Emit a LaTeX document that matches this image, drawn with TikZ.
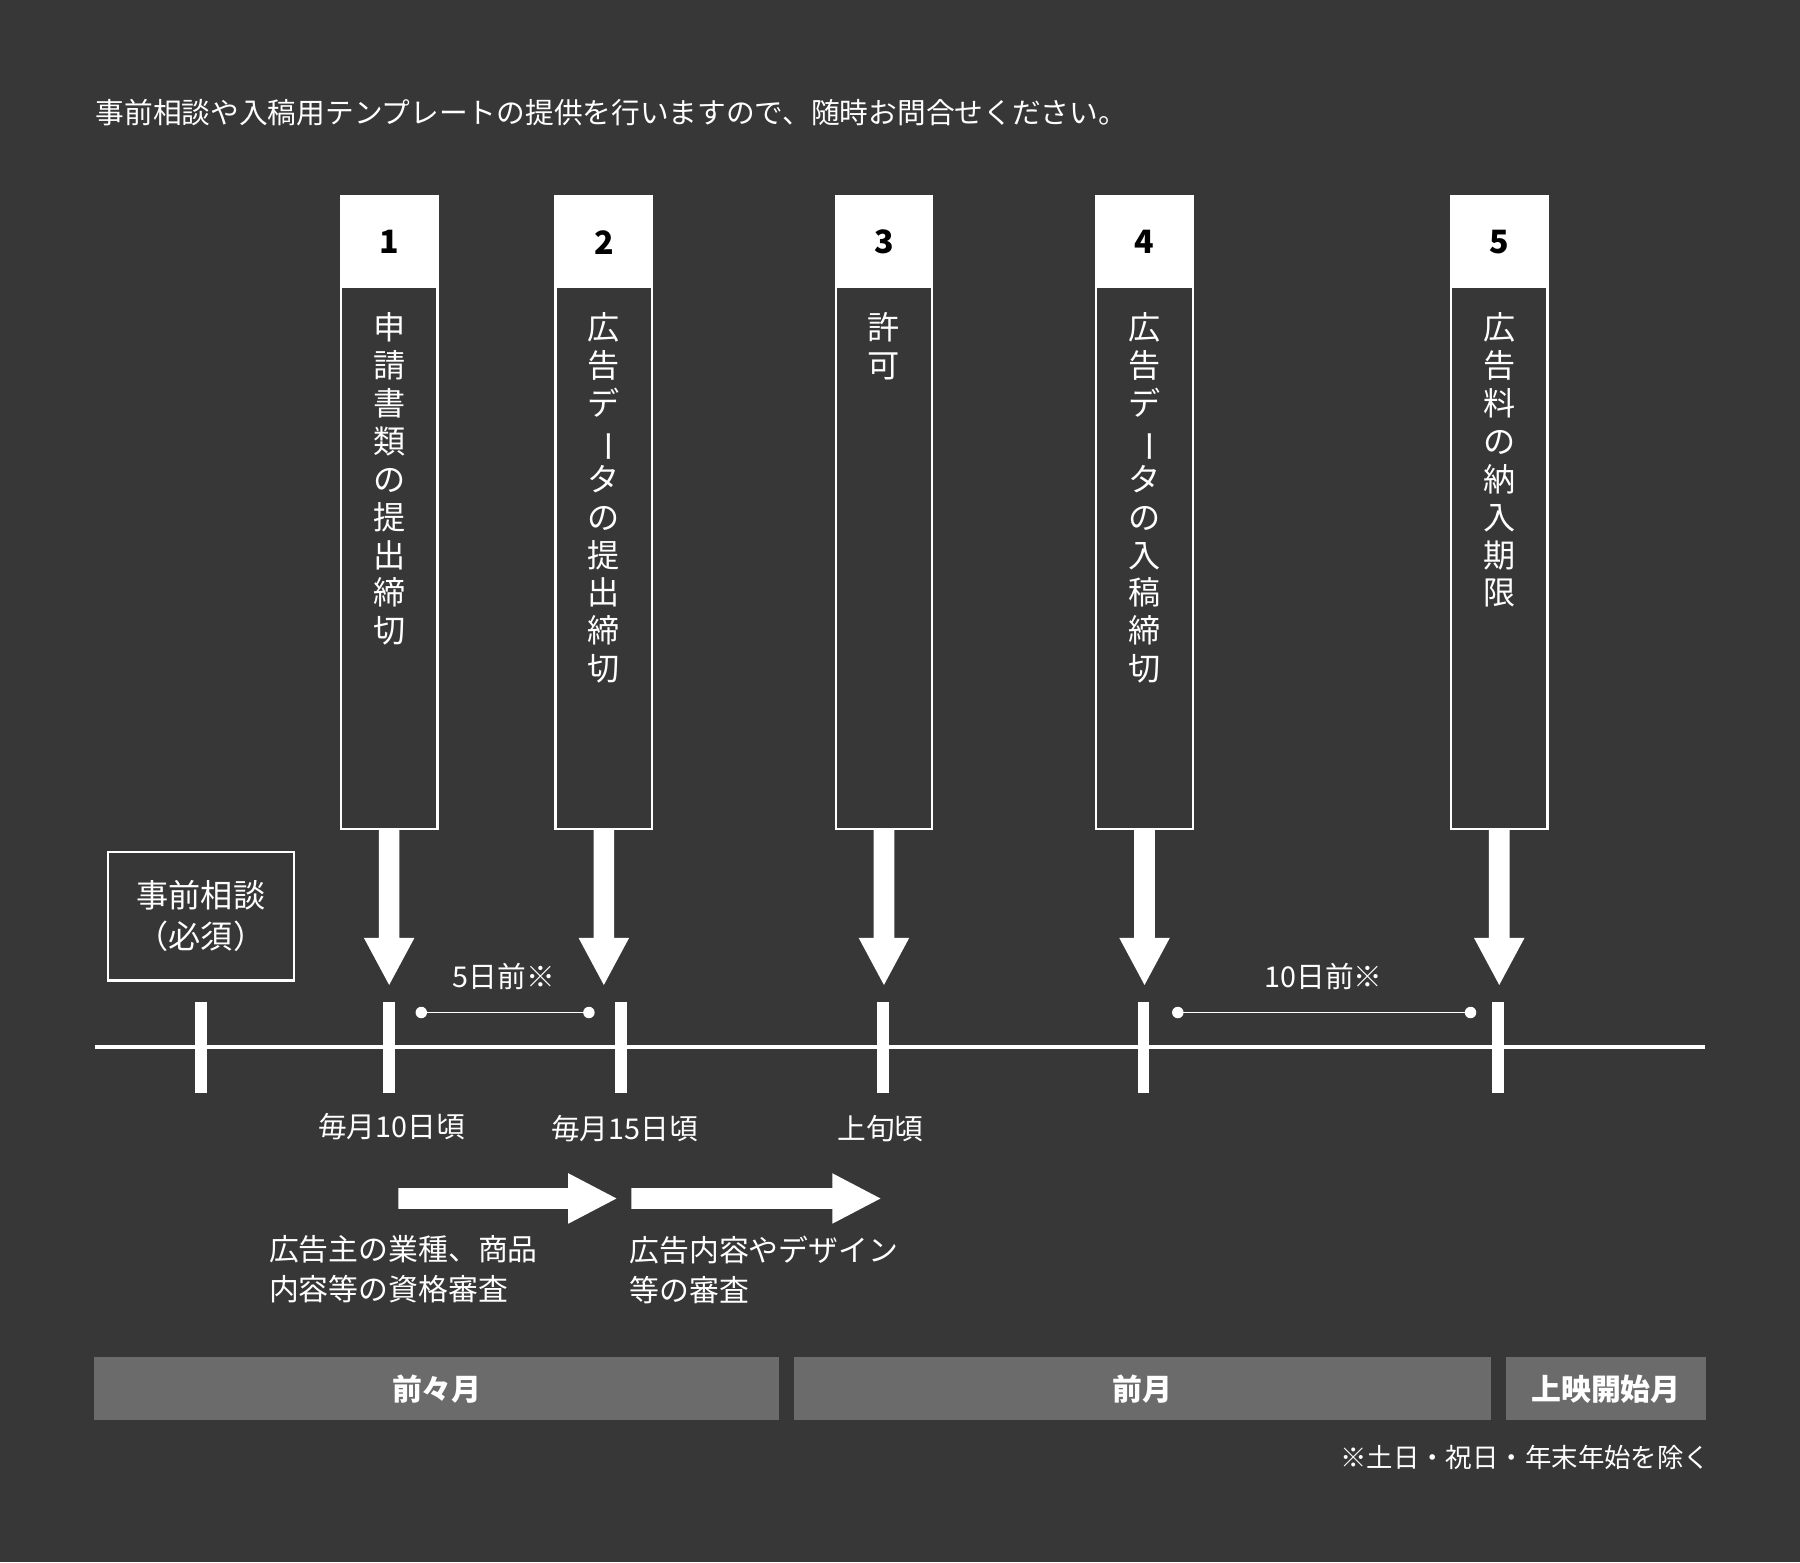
\documentclass[tikz,border=0pt]{standalone}
\usepackage{fontspec}
\usepackage{graphicx}
\newfontfamily\jp{Noto Sans CJK JP}
\newfontfamily\jpb{Noto Sans CJK JP Bold}
\definecolor{bg}{HTML}{373737}
\definecolor{bar}{HTML}{6B6B6B}
\newcommand{\vbar}{\rotatebox[origin=c]{-90}{ー}}
\begin{document}
\begin{tikzpicture}[x=0.5pt,y=-0.5pt,
  txt/.style={text=white,font=\jp\fontsize{12.5}{15}\selectfont,inner sep=0},
  vtxt/.style={text=white,font=\jp\fontsize{14}{16.5}\selectfont,inner sep=0,align=center,anchor=north},
  col/.style={draw=white,line width=1pt,fill=bg},
  hdr/.style={draw=white,fill=white,line width=1pt},
  num/.style={text=black,font=\jp\bfseries\fontsize{14}{16}\selectfont},
  tick/.style={white,line width=5pt},
  barbox/.style={fill=bar,draw=none,text=white,font=\jp\bfseries\fontsize{13}{15}\selectfont}]
\fill[bg] (0,0) rectangle (1568,1361);
\useasboundingbox (0,0) rectangle (1568,1361);
\node[txt,anchor=west] (top) at (83,98) {事前相談や入稿用テンプレートの提供を行いますので、随時お問合せください。};
% columns
\foreach \i/\x/\t in {1/339/{申\\請\\書\\類\\の\\提\\出\\締\\切},
  2/526/{広\\告\\デ\\\vbar\\タ\\の\\提\\出\\締\\切},
  3/770/{許\\可},
  4/997/{広\\告\\デ\\\vbar\\タ\\の\\入\\稿\\締\\切},
  5/1306/{広\\告\\料\\の\\納\\入\\期\\限}}{
  \draw[col] (\x-42,171) rectangle (\x+42,722);
  \draw[hdr] (\x-42,171) rectangle (\x+42,250);
  \node[num] (n\i) at (\x,211) {\i};
  \node[vtxt] (v\i) at (\x,272) {\t};
  \coordinate (c\i) at (\x,722);
  \fill[white] (\x-9,722) -- (\x+9,722) -- (\x+9,817) -- (\x+22,817) -- (\x,858) -- (\x-22,817) -- (\x-9,817) -- cycle;
}
% prior consult box
\node[draw=white,line width=1pt,minimum width=81pt,minimum height=56pt,text=white,
  font=\jp\fontsize{14}{18}\selectfont,align=center] (pre) at (175,798) {事前相談\\（必須）};
% timeline
\draw[white,line width=1.5pt] (83,912) -- (1485,912);
\foreach \x in {175,339,541,769,996,1305}{\draw[tick] (\x,873) -- (\x,952);}
% intervals
\coordinate (a1) at (367,882); \coordinate (a2) at (513,882);
\coordinate (b1) at (1026,882); \coordinate (b2) at (1281,882);
\draw[white,line width=0.8pt] (a1) -- (a2);
\draw[white,line width=0.8pt] (b1) -- (b2);
\foreach \p in {a1,a2,b1,b2}{\fill[white] (\p) circle (5);}
\node[txt] (l5) at (439,851) {5日前※};
\node[txt] (l10) at (1153,851) {10日前※};
\node[txt] (d1) at (341,981) {毎月10日頃};
\node[txt] (d2) at (544,983) {毎月15日頃};
\node[txt] (d3) at (767,983) {上旬頃};
% horizontal arrows
\fill[white] (347,1035) -- (495,1035) -- (495,1022) -- (537,1044) -- (495,1066) -- (495,1053) -- (347,1053) -- cycle;
\fill[white] (550,1035) -- (725,1035) -- (725,1022) -- (767,1044) -- (725,1066) -- (725,1053) -- (550,1053) -- cycle;
\node[txt,anchor=north west,align=left,font=\jp\fontsize{13}{17.5}\selectfont] (e1) at (234,1076) {広告主の業種、商品\\内容等の資格審査};
\node[txt,anchor=north west,align=left,font=\jp\fontsize{13}{17.5}\selectfont] (e2) at (548,1076) {広告内容やデザイン\\等の審査};
% bars
\fill[bar] (82,1182) rectangle (679,1237);
\fill[bar] (692,1182) rectangle (1299,1237);
\fill[bar] (1312,1182) rectangle (1486,1237);
\node[barbox] (m1) at (380.5,1210) {前々月};
\node[barbox] (m2) at (995.5,1210) {前月};
\node[barbox] (m3) at (1399,1210) {上映開始月};
\node[txt,anchor=east,font=\jp\fontsize{11.5}{14}\selectfont] (fn) at (1490,1270) {※土日・祝日・年末年始を除く};
\end{tikzpicture}
\end{document}
